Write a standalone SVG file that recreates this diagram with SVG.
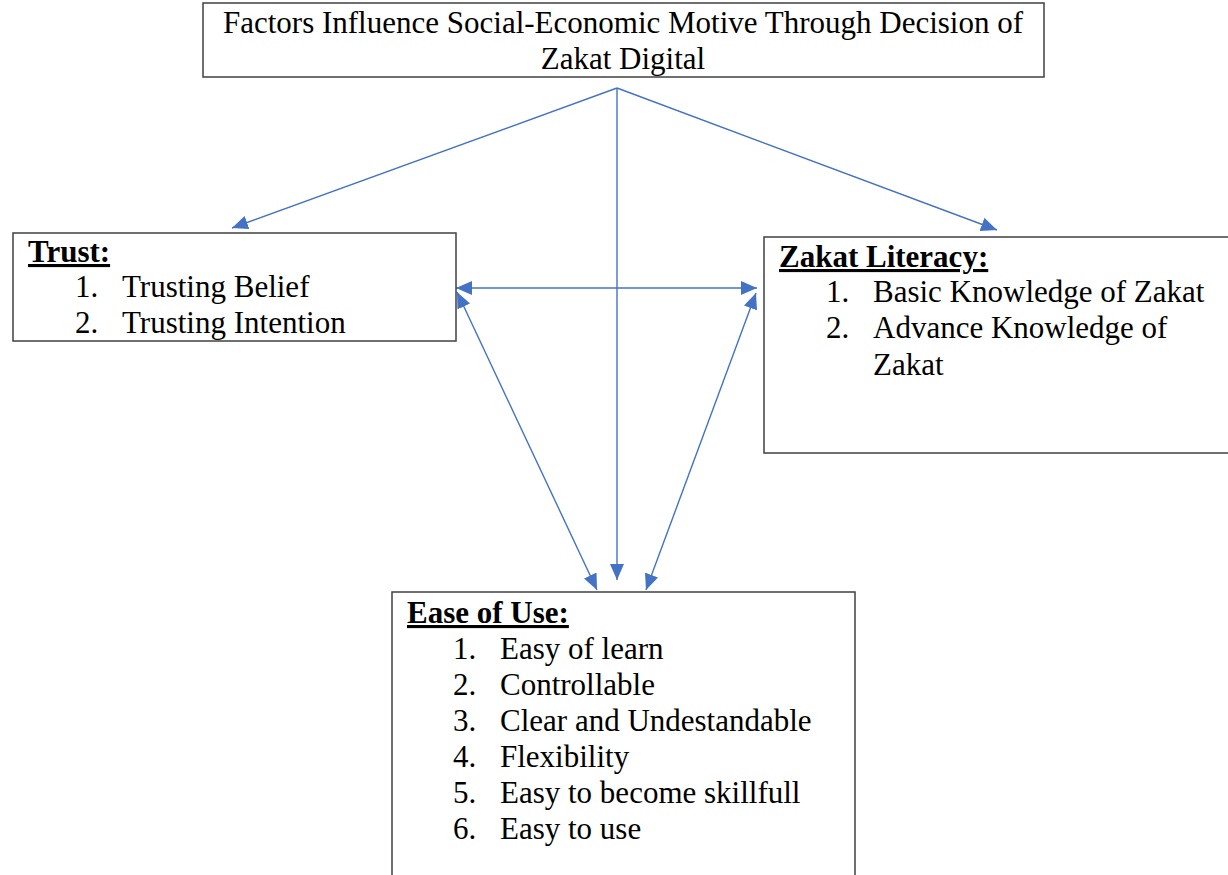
<svg xmlns="http://www.w3.org/2000/svg" width="1228" height="875" viewBox="0 0 1228 875">
<style>
.box{fill:#fff;stroke:#404040;stroke-width:1.5}
.t{font-family:"Liberation Serif","Times New Roman",serif;font-size:31px;fill:#000}
.h{font-weight:bold;text-decoration:underline}
.c{stroke:#4472C4;stroke-width:1.4;fill:none}
</style>
<defs>
<marker id="ah" markerUnits="userSpaceOnUse" viewBox="0 0 16 14" refX="16" refY="7" markerWidth="16" markerHeight="14" orient="auto-start-reverse">
<path d="M0,0 L16,7 L0,14 z" fill="#4472C4"/>
</marker>
</defs>
<rect width="1228" height="875" fill="#fff"/>
<g id="connectors">
<line class="c" x1="617" y1="88" x2="232" y2="228" marker-end="url(#ah)"/>
<line class="c" x1="617" y1="88" x2="997" y2="230" marker-end="url(#ah)"/>
<line class="c" x1="617" y1="88" x2="617" y2="580" marker-end="url(#ah)"/>
<line class="c" x1="456" y1="288" x2="757" y2="288" marker-start="url(#ah)" marker-end="url(#ah)"/>
<line class="c" x1="457" y1="292" x2="597" y2="590" marker-start="url(#ah)" marker-end="url(#ah)"/>
<line class="c" x1="756" y1="293" x2="646" y2="590" marker-start="url(#ah)" marker-end="url(#ah)"/>
</g>
<g id="title">
<rect class="box" x="203" y="3" width="841" height="74"/>
<text class="t" x="623" y="33" text-anchor="middle">Factors Influence Social-Economic Motive Through Decision of</text>
<text class="t" x="623" y="69" text-anchor="middle">Zakat Digital</text>
</g>
<g id="trust">
<rect class="box" x="13" y="233" width="443" height="108"/>
<text class="t h" x="28" y="262">Trust:</text>
<text class="t" x="75" y="297">1.</text><text class="t" x="122" y="297">Trusting Belief</text>
<text class="t" x="75" y="333">2.</text><text class="t" x="122" y="333">Trusting Intention</text>
</g>
<g id="zakat-literacy">
<rect class="box" x="764" y="237" width="480" height="216"/>
<text class="t h" x="779" y="267">Zakat Literacy:</text>
<text class="t" x="826" y="302">1.</text><text class="t" x="873" y="302">Basic Knowledge of Zakat</text>
<text class="t" x="826" y="338">2.</text><text class="t" x="873" y="338">Advance Knowledge of</text>
<text class="t" x="873" y="375">Zakat</text>
</g>
<g id="ease-of-use">
<rect class="box" x="392" y="592" width="463" height="300"/>
<text class="t h" x="407" y="623">Ease of Use:</text>
<text class="t" x="453" y="659">1.</text><text class="t" x="500" y="659">Easy of learn</text>
<text class="t" x="453" y="695">2.</text><text class="t" x="500" y="695">Controllable</text>
<text class="t" x="453" y="731">3.</text><text class="t" x="500" y="731">Clear and Undestandable</text>
<text class="t" x="453" y="767">4.</text><text class="t" x="500" y="767">Flexibility</text>
<text class="t" x="453" y="803">5.</text><text class="t" x="500" y="803">Easy to become skillfull</text>
<text class="t" x="453" y="839">6.</text><text class="t" x="500" y="839">Easy to use</text>
</g>
</svg>
